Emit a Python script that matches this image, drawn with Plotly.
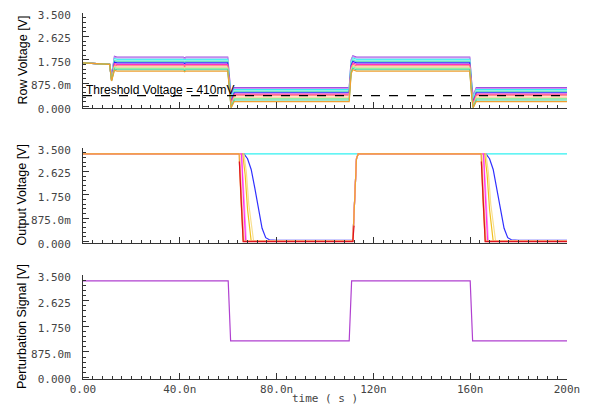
import plotly.graph_objects as go

# ---------------- data ----------------
# time in ns
row_colors = ["#a050e0", "#c890f0", "#30f0f0", "#a0f8f0", "#70e0c0", "#2020ff",
              "#ff30c0", "#ff7070", "#ffc890", "#90f0a0", "#40d0a0", "#f0a030"]
row_high = [1.85, 1.82, 1.77, 1.73, 1.69, 1.64, 1.58, 1.53, 1.48, 1.43, 1.38, 1.33]
row_low = [0.71, 0.68, 0.64, 0.60, 0.57, 0.52, 0.47, 0.43, 0.36, 0.30, 0.25, 0.19]
row_dip = [1.20, 1.15, 1.12, 1.08, 1.05, 1.02, 1.00, 0.98, 0.97, 0.96, 0.97, 0.96]
row_under = [0.40, 0.35, 0.30, 0.25, 0.20, 0.15, 0.10, 0.05, 0.00, -0.03, -0.04, -0.04]
row_start = [1.64, 1.60, 1.58]  # values at t = 0, 10, 11 ns
threshold = 0.41

out_names = ["cyan", "blue", "lightyellow", "yellow", "pink", "magenta", "peach", "orange", "red"]
out_colors = ["#30f0f0", "#3030ff", "#f8e090", "#f0c020", "#ffa0f0", "#ff30f0", "#f8c090", "#f0a030", "#e01020"]
out_t = {
    "cyan": [0, 200],
    "blue": [0, 66.5, 68, 69.5, 71, 72.5, 74, 75.5, 77, 80, 111.5, 113, 113.7, 166.5, 168, 169.5, 171, 172.5, 174, 175.5, 177, 180, 200],
    "lightyellow": [0, 66.5, 67.5, 68.5, 70.5, 111.5, 113, 113.7, 166.5, 167.5, 168.5, 170.5, 200],
    "yellow": [0, 66, 67, 68, 69.5, 111.5, 113, 113.7, 166, 167, 168, 169.5, 200],
    "pink": [0, 65.5, 66.5, 67.5, 111.5, 113, 113.7, 165.5, 166.5, 167.5, 200],
    "magenta": [0, 65.5, 66.2, 67.2, 111.5, 113, 113.7, 165.5, 166.2, 167.2, 200],
    "peach": [0, 64.8, 65.6, 66.6, 111.5, 113, 113.7, 164.8, 165.6, 166.6, 200],
    "orange": [0, 64.5, 65.3, 66.2, 111.5, 113, 113.7, 164.5, 165.3, 166.2, 200],
    "red": [64.6, 65.3, 66.2, 111.5, 112.0, None, 164.6, 165.3, 166.2, 200],
}
out_v = {
    "cyan": [3.28, 3.28],
    "blue": [3.28, 3.28, 3.1, 2.7, 2.0, 1.2, 0.5, 0.15, 0.07, 0.05, 0.05, 3.1, 3.28, 3.28, 3.1, 2.7, 2.0, 1.2, 0.5, 0.15, 0.07, 0.05, 0.05],
    "lightyellow": [3.28, 3.28, 2.6, 1.4, 0.02, 0.02, 3.1, 3.28, 3.28, 2.6, 1.4, 0.02, 0.02],
    "yellow": [3.28, 3.28, 2.5, 1.2, 0.02, 0.02, 3.1, 3.28, 3.28, 2.5, 1.2, 0.02, 0.02],
    "pink": [3.28, 3.28, 1.8, 0.02, 0.02, 3.1, 3.28, 3.28, 1.8, 0.02, 0.02],
    "magenta": [3.28, 3.28, 1.8, 0.01, 0.01, 3.1, 3.28, 3.28, 1.8, 0.01, 0.01],
    "peach": [3.28, 3.28, 1.6, 0.01, 0.01, 3.1, 3.28, 3.28, 1.6, 0.01, 0.01],
    "orange": [3.28, 3.28, 1.5, 0.02, 0.02, 3.1, 3.28, 3.28, 1.5, 0.02, 0.02],
    "red": [3.0, 1.5, 0.0, 0.0, 0.6, None, 3.0, 1.5, 0.0, 0.0],
}

pert_t = [0, 60, 61, 110, 111, 160, 161, 200]
pert_v = [3.3, 3.3, 1.25, 1.25, 3.3, 3.3, 1.25, 1.25]

x_tickvals = [0, 40, 80, 120, 160, 200]
x_ticktext = ["0.00", "40.0n", "80.0n", "120n", "160n", "200n"]
y_tickvals = [0, 0.875, 1.75, 2.625, 3.5]
y_ticktext = ["0.000", "875.0m", "1.750", "2.625", "3.500"]

# ---------------- figure ----------------
fig = go.Figure()

# Row voltage traces
for c, H, L, d, u in zip(row_colors, row_high, row_low, row_dip, row_under):
    t = [0, 10, 11, 11.8, 13, 14, 41.5, 42, 42.5, 59.8, 60.6, 61.2, 62.5,
         110, 110.8, 111.5, 113, 159.8, 160.6, 161.2, 162.5, 200]
    v = [row_start[0], row_start[1], row_start[2], d, H + 0.03, H, H, H - 0.03, H, H, L + 0.2, u, L,
         L, H - 0.1, H + 0.05, H, H, L + 0.2, u, L, L]
    fig.add_trace(go.Scatter(x=t, y=v, mode="lines", line=dict(color=c, width=1.2),
                             xaxis="x", yaxis="y", showlegend=False, hoverinfo="skip"))

fig.add_trace(go.Scatter(x=[0, 200], y=[threshold, threshold], mode="lines",
                         line=dict(color="black", width=1.2, dash="dash"),
                         xaxis="x", yaxis="y", showlegend=False))

# Output voltage traces
for n, c in zip(out_names, out_colors):
    fig.add_trace(go.Scatter(x=out_t[n], y=out_v[n], mode="lines", line=dict(color=c, width=1.2),
                             connectgaps=False, xaxis="x2", yaxis="y2", showlegend=False))

# Perturbation
fig.add_trace(go.Scatter(x=pert_t, y=pert_v, mode="lines", line=dict(color="#b040d0", width=1.2),
                         xaxis="x3", yaxis="y3", showlegend=False))

tickfont = dict(family="DejaVu Sans Mono", size=11, color="#444444")

def xax(domain_anchor, show_labels):
    return dict(range=[0, 200], domain=[0, 1], anchor=domain_anchor, automargin=False,
                showline=True, linecolor="#333333", linewidth=1, mirror=False,
                ticks="inside", ticklen=6, tickcolor="#333333",
                tickvals=x_tickvals, ticktext=x_ticktext, showticklabels=show_labels,
                tickfont=tickfont, showgrid=False, zeroline=False, ticklabeloverflow="allow",
                minor=dict(ticks="inside", ticklen=3, dtick=4, tick0=0, tickcolor="#333333", showgrid=False))

def yax(domain, anchor, rng):
    return dict(range=rng, domain=domain, anchor=anchor, automargin=False,
                showline=True, linecolor="#333333", linewidth=1,
                ticks="inside", ticklen=6, tickcolor="#333333",
                tickvals=y_tickvals, ticktext=y_ticktext, tickfont=tickfont,
                ticklabelstandoff=9, ticklabelshift=2, ticklabeloverflow="allow",
                showgrid=False, zeroline=False,
                minor=dict(ticks="inside", ticklen=3, dtick=0.175, tick0=0, tickcolor="#333333", showgrid=False))

d1 = [0.7404, 1.0]
d2 = [0.3716, 0.631]
d3 = [0.0, 0.284]

# the page body adds an 8px offset, so the figure is 8px smaller than the window
fig.update_layout(
    width=587, height=399,
    margin=dict(l=75, r=28, t=5, b=28, autoexpand=False),
    paper_bgcolor="white", plot_bgcolor="white",
    xaxis=xax("y", False),
    xaxis2=xax("y2", False),
    xaxis3=xax("y3", True),
    yaxis=yax(d1, "x", [-0.05, 3.5]),
    yaxis2=yax(d2, "x2", [-0.05, 3.5]),
    yaxis3=yax(d3, "x3", [-0.05, 3.5]),
    showlegend=False,
)

title_font = dict(family="Liberation Sans", size=12.5, color="black")
for txt, dom in [("Row Voltage [V]", d1), ("Output Voltage [V]", d2), ("Perturbation Signal [V]", d3)]:
    fig.add_annotation(text=txt, xref="paper", yref="paper", x=-0.126, y=(dom[0] + dom[1]) / 2,
                       textangle=-90, showarrow=False, font=title_font, xanchor="center", yanchor="middle")

fig.add_annotation(text="Threshold Voltage = 410mV", xref="x", yref="y", x=0.5, y=threshold,
                   xanchor="left", yanchor="bottom", showarrow=False, yshift=-3,
                   font=dict(family="Liberation Sans", size=12, color="black"))

fig.add_annotation(text="time ( s )", xref="paper", yref="paper", x=0.5, y=0, yshift=-19,
                   xanchor="center", yanchor="middle", showarrow=False,
                   font=dict(family="DejaVu Sans Mono", size=11, color="#444444"))

fig.write_html("out.html")
